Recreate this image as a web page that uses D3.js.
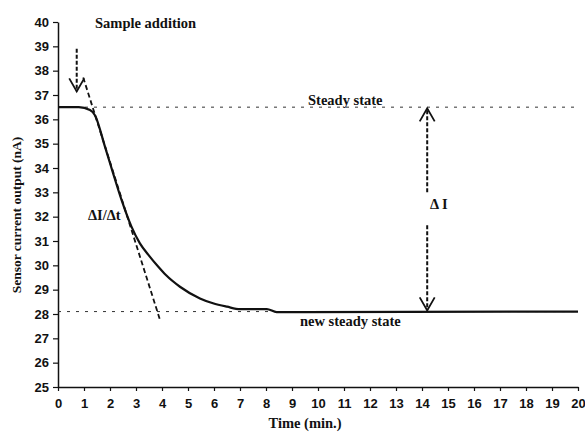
<!DOCTYPE html>
<html>
<head>
<meta charset="utf-8">
<script src="https://cdn.jsdelivr.net/npm/d3@7"></script>
<style>
  body { margin: 0; background: #fff; }
  .tick text { font-family: "Liberation Sans", Arial, sans-serif; font-weight: bold; font-size: 13px; fill: #111; }
  .note { font-family: "Liberation Serif", "Times New Roman", serif; font-weight: bold; font-size: 14.5px; fill: #111; }
</style>
</head>
<body>
<script>
var margin = {left: 58, top: 22, bottom: 45, right: 7},
    width = 585 - margin.left - margin.right,
    height = 432 - margin.top - margin.bottom;

// sensor response
var timeMin = [0, 0.5, 0.8, 1.23, 1.42, 1.8, 2.1, 2.45, 2.83, 3.15, 3.5, 3.85, 4.15, 4.69, 5.46, 5.96, 6.5, 7.0, 8.03, 8.41, 9.5, 20];
var current = [36.5, 36.5, 36.5, 36.38, 36.17, 34.9, 33.85, 32.67, 31.58, 30.9, 30.4, 29.95, 29.6, 29.12, 28.64, 28.44, 28.3, 28.2, 28.2, 28.08, 28.08, 28.1];

// annotations
var steadyState = 36.5, newSteadyState = 28.1;
var tangentT = [0.97, 3.92], tangentI = [37.72, 27.77];
var sampleArrow = {t: 0.72, from: 38.9, to: 37.15};
var deltaArrowT = 14.2, deltaUpper = [33.0, 36.45], deltaLower = [31.65, 28.15];

var xTicks = d3.range(0, 21, 1), yTicks = d3.range(25, 41, 1);

var svg = d3.select("body").append("svg")
    .attr("width", width + margin.left + margin.right)
    .attr("height", height + margin.top + margin.bottom)
  .append("g")
    .attr("transform", "translate(" + margin.left + "," + margin.top + ")");

var x = d3.scaleLinear().domain([0, 20]).range([0, width]);
var y = d3.scaleLinear().domain([25, 40]).range([height, 0]);

// axes
svg.append("g")
    .attr("transform", "translate(0," + height + ")")
    .call(d3.axisBottom(x).tickValues(xTicks).tickSize(4).tickPadding(8).tickSizeOuter(0));
svg.append("g")
    .call(d3.axisLeft(y).tickValues(yTicks).tickSize(5).tickPadding(4).tickSizeOuter(0));
svg.selectAll(".domain").attr("stroke", "#111").attr("stroke-width", 1.5);
svg.selectAll(".tick line").attr("stroke", "#111").attr("stroke-width", 1.2);

// dotted reference levels
[steadyState, newSteadyState].forEach(function(v) {
  svg.append("line")
      .attr("x1", x(0)).attr("x2", x(20))
      .attr("y1", y(v)).attr("y2", y(v))
      .attr("stroke", "#333").attr("stroke-width", 1)
      .attr("stroke-dasharray", "3,6");
});

// response curve
var pts = timeMin.map(function(t, i) { return [t, current[i]]; });
svg.append("path")
    .datum(pts)
    .attr("fill", "none")
    .attr("stroke", "#111")
    .attr("stroke-width", 2.2)
    .attr("d", d3.line().x(d => x(d[0])).y(d => y(d[1])).curve(d3.curveMonotoneX));

// tangent dI/dt
svg.append("line")
    .attr("x1", x(tangentT[0])).attr("y1", y(tangentI[0]))
    .attr("x2", x(tangentT[1])).attr("y2", y(tangentI[1]))
    .attr("stroke", "#111").attr("stroke-width", 1.8)
    .attr("stroke-dasharray", "5,3");

function dashedArrow(t, v0, v1) {
  var px = x(t), py0 = y(v0), py1 = y(v1);
  var dir = py1 > py0 ? 1 : -1;
  svg.append("line")
      .attr("x1", px).attr("x2", px).attr("y1", py0).attr("y2", py1)
      .attr("stroke", "#111").attr("stroke-width", 2)
      .attr("stroke-dasharray", "4,2");
  svg.append("path")
      .attr("d", "M" + (px - 7.5) + "," + (py1 - dir * 13) + "L" + px + "," + py1 + "L" + (px + 7.5) + "," + (py1 - dir * 13))
      .attr("fill", "none").attr("stroke", "#111").attr("stroke-width", 1.8);
}
dashedArrow(sampleArrow.t, sampleArrow.from, sampleArrow.to);
dashedArrow(deltaArrowT, deltaUpper[0], deltaUpper[1]);
dashedArrow(deltaArrowT, deltaLower[0], deltaLower[1]);

// labels
svg.append("text").attr("class", "note").attr("x", 37).attr("y", 6).text("Sample addition");
svg.append("text").attr("class", "note").attr("x", 250).attr("y", 83).text("Steady state");
svg.append("text").attr("class", "note").attr("x", 242).attr("y", 304).text("new steady state");
svg.append("text").attr("class", "note").attr("x", 30).attr("y", 198).text("\u0394I/\u0394t");
svg.append("text").attr("class", "note").attr("x", 372).attr("y", 187).text("\u0394 I");

svg.append("text").attr("class", "note")
    .attr("x", 247).attr("y", height + 41)
    .attr("text-anchor", "middle")
    .text("Time (min.)");
svg.append("text").attr("class", "note")
    .attr("transform", "translate(-37," + 193 + ") rotate(-90)")
    .attr("text-anchor", "middle")
    .style("font-size", "13.5px")
    .text("Sensor current output (nA)");
</script>
</body>
</html>
